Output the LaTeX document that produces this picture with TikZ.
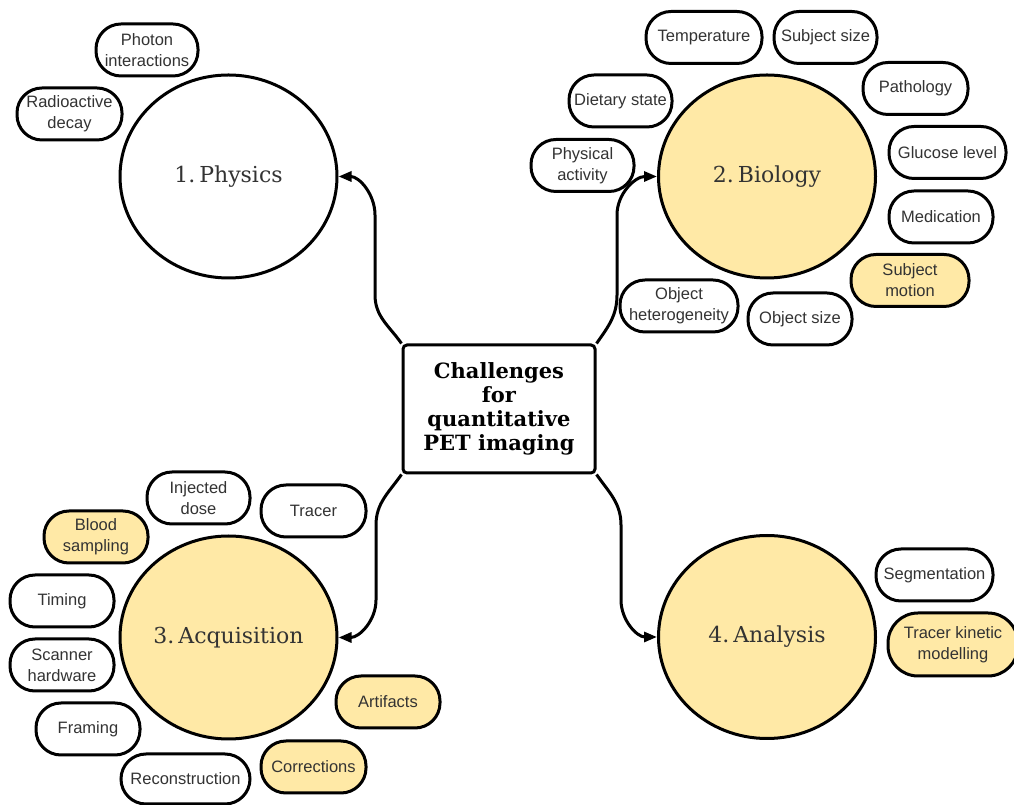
\documentclass[tikz,border=0pt]{standalone}
\usepackage{fontspec}
\setmainfont{DejaVu Serif}
\newfontfamily\pillfont{Liberation Sans}
\usetikzlibrary{arrows.meta,shapes.geometric}
\definecolor{pale}{HTML}{FFE9A6}
\definecolor{ink}{HTML}{333333}
\newcommand{\numsep}{\hspace{0.18em}}

\begin{document}
\begin{tikzpicture}[x=1pt,y=1pt,
  topic/.style={ellipse, draw, line width=3pt, minimum width=217pt, minimum height=203pt,
    inner sep=0pt, font=\fontsize{22}{26}\selectfont, text=ink},
  hub/.style={rectangle, draw, line width=3pt, rounded corners=4pt, minimum width=192pt,
    minimum height=128pt, font=\fontsize{21}{24}\selectfont\bfseries, align=center},
  pill/.style={rectangle, draw, line width=3pt, rounded corners=25pt, minimum height=52pt,
    inner sep=2pt, font=\pillfont\fontsize{16.5}{21}\selectfont, text=ink, align=center},
  hi/.style={fill=pale},
  link/.style={line width=3pt, -{Triangle[length=13pt,width=10pt]}}]

\useasboundingbox (0,0) rectangle (1014,805);
\fill[white] (0,0) rectangle (1014,805);

% central topic
\node[hub] (hub) at (499,396) {Challenges\\for\\quantitative\\PET imaging};

% four themes
\node[topic, fill=white] (phys) at (228.5,628.5) {1.\numsep Physics};
\node[topic, fill=pale] (bio) at (767,628.5) {2.\numsep Biology};
\node[topic, fill=pale] (acq) at (228.5,167.5) {3.\numsep Acquisition};
\node[topic, fill=pale] (ana) at (767,168) {4.\numsep Analysis};

% physics factors
\node[pill, minimum width=102pt] (photon) at (147,755) {Photon\\interactions};
\node[pill, minimum width=105pt] (radio) at (69.5,691) {Radioactive\\decay};

% biology factors
\node[pill, minimum width=116pt] (temp) at (704,767.5) {Temperature};
\node[pill, minimum width=103pt] (subjsize) at (825.5,767.5) {Subject size};
\node[pill, minimum width=105pt] (patho) at (915.5,716.5) {Pathology};
\node[pill, minimum width=103pt] (diet) at (620.5,704) {Dietary state};
\node[pill, minimum width=117pt] (glucose) at (947.5,652.5) {Glucose level};
\node[pill, minimum width=103pt] (physact) at (582.5,639.5) {Physical\\activity};
\node[pill, minimum width=104pt] (medic) at (941,588) {Medication};
\node[pill, hi, minimum width=118pt] (motion) at (910,524.5) {Subject\\motion};
\node[pill, minimum width=118pt] (objhet) at (679,499) {Object\\heterogeneity};
\node[pill, minimum width=104pt] (objsize) at (800,486) {Object size};

% acquisition factors
\node[pill, minimum width=103pt] (dose) at (198.5,307) {Injected\\dose};
\node[pill, minimum width=105pt] (tracer) at (313.5,294) {Tracer};
\node[pill, hi, minimum width=104pt] (blood) at (96,268) {Blood\\sampling};
\node[pill, minimum width=104pt] (timing) at (62,204) {Timing};
\node[pill, minimum width=104pt] (scanner) at (62,140) {Scanner\\hardware};
\node[pill, minimum width=104pt] (framing) at (88,76) {Framing};
\node[pill, hi, minimum width=104pt] (artifacts) at (388,103) {Artifacts};
\node[pill, hi, minimum width=105pt] (corrections) at (313.5,38) {Corrections};
\node[pill, minimum width=129pt, minimum height=50pt] (recon) at (185.5,26) {Reconstruction};

% analysis factors
\node[pill, minimum width=117pt] (segment) at (934.5,230) {Segmentation};
\node[pill, hi, minimum width=130pt, minimum height=63pt, rounded corners=30pt] (kinetic) at (953,160.5) {Tracer kinetic\\modelling};

% branches from the central topic
\draw[link] (hub.north west) to[out=125,in=-90] (375,510) -- (375,590) to[out=90,in=0] (phys.east);
\draw[link] (hub.north east) to[out=55,in=-90] (617,510) -- (617,590) to[out=90,in=180] (bio.west);
\draw[link] (hub.south west) to[out=-125,in=90] (376,280) -- (376,205) to[out=-90,in=0] (acq.east);
\draw[link] (hub.south east) to[out=-55,in=90] (621,280) -- (621,205) to[out=-90,in=180] (ana.west);
\end{tikzpicture}
\end{document}
